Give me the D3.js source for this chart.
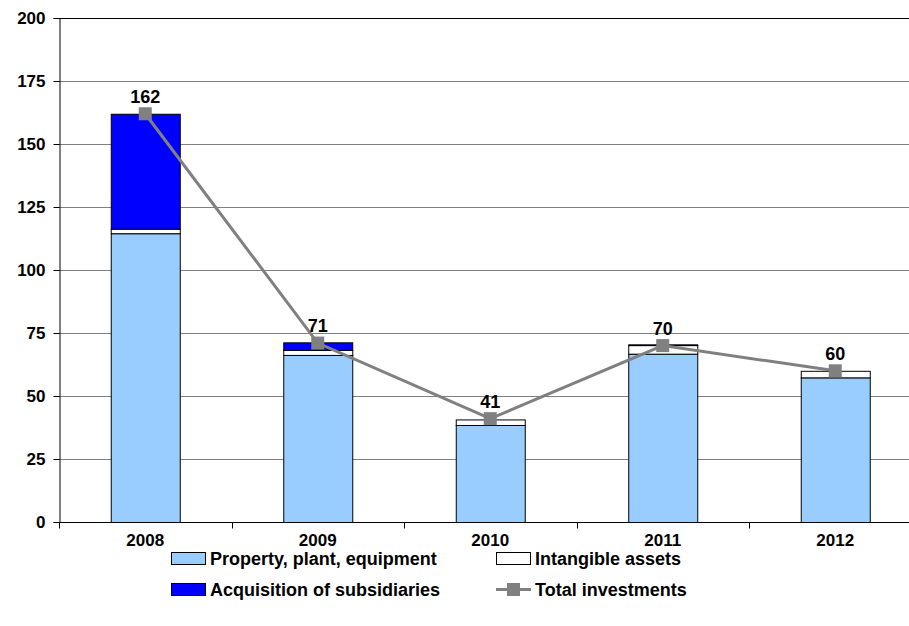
<!DOCTYPE html>
<html>
<head>
<meta charset="utf-8">
<script src="https://cdn.jsdelivr.net/npm/d3@7"></script>
<style>
  html, body { margin: 0; padding: 0; background: #fff; }
  svg { display: block; font-family: "Liberation Sans", Arial, sans-serif; font-weight: bold; }
</style>
</head>
<body>
<svg id="chart" width="909" height="626"></svg>
<script>
// Investment breakdown by year
const years = ["2008", "2009", "2010", "2011", "2012"];
const propertyPlant = [114.6, 66.3, 38.5, 66.8, 57.4];
const intangibles = [1.8, 2.0, 2.2, 3.4, 2.6];
const acquisitions = [45.6, 3.0, 0, 0.3, 0];
const totals = [162, 71, 41, 70, 60];
const yTicks = [0, 25, 50, 75, 100, 125, 150, 175, 200];

const seriesNames = ["Property, plant, equipment", "Intangible assets", "Acquisition of subsidiaries"];
const seriesColors = ["#99CCFF", "#FFFFFF", "#0000FF"];
const lineName = "Total investments";
const lineColor = "#808080";

const svg = d3.select("#chart");
const plotLeft = 59, plotTop = 18, plotBottom = 522, plotRight = 921.5;

const x = d3.scaleBand().domain(years).range([plotLeft, plotRight]).padding(0);
const barW = 69;
const y = d3.scaleLinear().domain([0, 200]).range([plotBottom, plotTop]);

// grid lines
svg.append("g").selectAll("line").data(yTicks.filter(t => t > 0)).join("line")
  .attr("x1", plotLeft).attr("x2", 909)
  .attr("y1", d => Math.round(y(d)) + 0.5).attr("y2", d => Math.round(y(d)) + 0.5)
  .attr("stroke", d => d === 200 ? "#000" : "#808080").attr("stroke-width", 1);

// stacked bars
const rows = years.map((yr, i) => ({ year: yr, s0: propertyPlant[i], s1: intangibles[i], s2: acquisitions[i] }));
const stack = d3.stack().keys(["s0", "s1", "s2"])(rows);
svg.append("g").selectAll("g").data(stack).join("g")
  .attr("fill", (d, i) => seriesColors[i])
  .selectAll("rect").data(d => d.filter(p => p[1] - p[0] > 0)).join("rect")
  .attr("x", d => x(d.data.year) + (x.bandwidth() - barW) / 2 + 0.5)
  .attr("width", barW)
  .attr("y", d => y(d[1]) + 0.5)
  .attr("height", d => y(d[0]) - y(d[1]))
  .attr("stroke", "#000").attr("stroke-width", 1);

// y axis
const yAxis = svg.append("g").attr("transform", `translate(${plotLeft + 0.5},0)`)
  .call(d3.axisLeft(y).tickValues(yTicks).tickSize(6).tickPadding(8));
yAxis.select(".domain").attr("stroke", "#000");
yAxis.selectAll(".tick line").attr("stroke", "#000");
yAxis.selectAll("text").attr("font-size", 17).attr("font-weight", "bold").attr("fill", "#000")
  .attr("font-family", "Liberation Sans, Arial, sans-serif");

// x axis with ticks between categories
const xAxisG = svg.append("g").attr("transform", `translate(0,${plotBottom + 0.5})`);
xAxisG.append("line").attr("x1", plotLeft).attr("x2", 909).attr("stroke", "#000");
xAxisG.selectAll("line.tk").data(years.concat(["end"])).join("line").attr("class", "tk")
  .attr("x1", (d, i) => Math.round(plotLeft + i * x.step()) + 0.5)
  .attr("x2", (d, i) => Math.round(plotLeft + i * x.step()) + 0.5)
  .attr("y1", 0).attr("y2", 6).attr("stroke", "#000");
xAxisG.selectAll("text").data(years).join("text")
  .attr("x", d => x(d) + x.bandwidth() / 2)
  .attr("y", 23)
  .attr("text-anchor", "middle")
  .attr("font-size", 17)
  .text(d => d);

// total line
const line = d3.line().x((d, i) => x(years[i]) + x.bandwidth() / 2).y(d => y(d));
svg.append("path").datum(totals).attr("d", line)
  .attr("fill", "none").attr("stroke", lineColor).attr("stroke-width", 3);
svg.append("g").selectAll("rect").data(totals).join("rect")
  .attr("x", (d, i) => x(years[i]) + x.bandwidth() / 2 - 6.5)
  .attr("y", d => y(d) - 6.5)
  .attr("width", 13).attr("height", 13)
  .attr("fill", lineColor);

// value labels
svg.append("g").selectAll("text").data(totals).join("text")
  .attr("x", (d, i) => x(years[i]) + x.bandwidth() / 2)
  .attr("y", d => y(d) - 11)
  .attr("text-anchor", "middle")
  .attr("font-size", 18)
  .text(d => d);

// legend
const legendItems = [
  { name: seriesNames[0], color: seriesColors[0], type: "box", lx: 171, ly: 558 },
  { name: seriesNames[1], color: seriesColors[1], type: "box", lx: 496, ly: 558 },
  { name: seriesNames[2], color: seriesColors[2], type: "box", lx: 171, ly: 589 },
  { name: lineName, color: lineColor, type: "line", lx: 496, ly: 589 }
];
const lg = svg.append("g").selectAll("g").data(legendItems).join("g")
  .attr("transform", d => `translate(${d.lx},${d.ly})`);
lg.filter(d => d.type === "box").append("rect")
  .attr("x", 0.5).attr("y", -5.5).attr("width", 34).attr("height", 12)
  .attr("fill", d => d.color).attr("stroke", "#000").attr("stroke-width", 1);
lg.filter(d => d.type === "line").append("line")
  .attr("x1", 0).attr("x2", 35).attr("y1", 0.5).attr("y2", 0.5)
  .attr("stroke", d => d.color).attr("stroke-width", 3);
lg.filter(d => d.type === "line").append("rect")
  .attr("x", 11).attr("y", -6).attr("width", 13).attr("height", 13)
  .attr("fill", d => d.color);
lg.append("text").attr("x", 39).attr("y", 7).attr("font-size", 18).text(d => d.name);
</script>
</body>
</html>
